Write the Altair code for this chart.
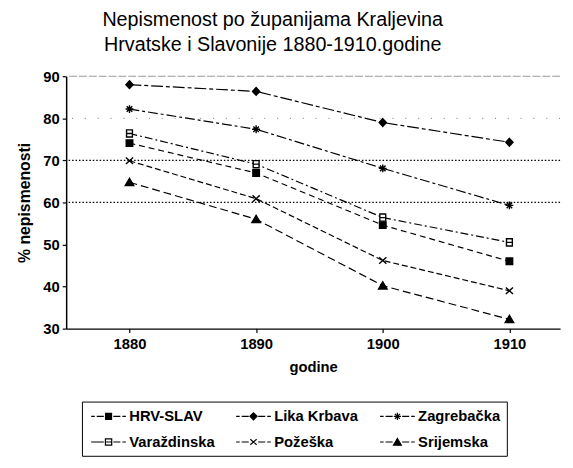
import altair as alt
import pandas as pd

years = [1880, 1890, 1900, 1910]
series = ["HRV-SLAV", "Lika Krbava", "Zagrebačka", "Varaždinska", "Požeška", "Srijemska"]
hrv_slav = [74.1, 67.0, 54.6, 46.0]
lika_krbava = [88.0, 86.4, 79.0, 74.3]
zagrebacka = [82.2, 77.4, 68.1, 59.3]
varazdinska = [76.4, 69.1, 56.4, 50.5]
pozeska = [69.9, 60.9, 46.2, 39.0]
srijemska = [64.8, 56.0, 40.2, 32.2]

y_ticks = [30, 40, 50, 60, 70, 80, 90]
grid_top = [90]
grid_sparse = [80]
grid_dotted = [70, 60]

all_vals = [hrv_slav, lika_krbava, zagrebacka, varazdinska, pozeska, srijemska]
rows = []
for name, vals in zip(series, all_vals):
    for yr, v in zip(years, vals):
        rows.append({"godina": yr, "zupanija": name, "pct": v})
df = pd.DataFrame(rows)

FONT = "Liberation Sans"
W, H = 501, 256

dashes = [[6, 4], [12, 3, 4, 3], [10, 3, 3, 3], [8, 3, 2, 3], [6, 3], [8, 4]]

plot_paths = [
    "M-1,-1H1V1H-1Z",
    "M0,-1.2L1.1,0L0,1.2L-1.1,0Z",
    "M-1.2,0H1.2M0,-1.2V1.2M-0.85,-0.85L0.85,0.85M-0.85,0.85L0.85,-0.85",
    "M-0.9,-1.1H0.9V1.1H-0.9ZM-0.9,0H0.9",
    "M-1.1,-1L1.1,1M-1.1,1L1.1,-1",
    "M0,-1.2L1.3,1H-1.3Z",
]
fills = ["black", "black", "black", "white", "black", "black"]
strokes = ["black"] * 6

L = "M-2.2,0H-1.75M-1.5,0H-0.6"
R = "M0.6,0H1.5M1.75,0H2.2"
legend_paths = [
    L + R + "M-0.38,-0.38H0.38V0.38H-0.38Z",
    L + R + "M0,-0.45L0.45,0L0,0.45L-0.45,0Z",
    L + R + "M-0.45,0H0.45M0,-0.45V0.45M-0.32,-0.32L0.32,0.32M-0.32,0.32L0.32,-0.32",
    "M-2.2,0H-0.6" + R + "M-0.4,-0.4H0.4V0.4H-0.4ZM-0.4,0H0.4",
    L + R + "M-0.4,-0.35L0.4,0.35M-0.4,0.35L0.4,-0.35",
    L + R + "M0,-0.45L0.5,0.4H-0.5Z",
]

x_axis = alt.Axis(
    values=years, format="d", title="godine", grid=False,
    labelFont=FONT, labelFontSize=15, labelFontWeight="bold", labelColor="black",
    titleFont=FONT, titleFontSize=15, titleFontWeight="bold", titleColor="black",
    titlePadding=8, labelPadding=4, tickSize=4, tickColor="black",
    domainColor="black", domainWidth=1.5, tickWidth=1.2,
)
y_axis = alt.Axis(
    values=y_ticks, title="% nepismenosti", grid=False,
    labelFont=FONT, labelFontSize=15, labelFontWeight="bold", labelColor="black",
    titleFont=FONT, titleFontSize=16, titleFontWeight="bold", titleColor="black",
    titlePadding=10, labelPadding=3, tickSize=4, tickColor="black",
    domainColor="black", domainWidth=1.5, tickWidth=1.2,
)
x_scale = alt.Scale(domain=[1875, 1914], nice=False, zero=False)
y_scale = alt.Scale(domain=[30, 90], nice=False, zero=False)

x_enc = alt.X("godina:Q", scale=x_scale, axis=x_axis)
y_enc = alt.Y("pct:Q", scale=y_scale, axis=y_axis)


def rule_layer(vals, **style):
    return alt.Chart(pd.DataFrame({"v": vals})).mark_rule(**style).encode(
        y=alt.Y("v:Q", scale=y_scale, axis=y_axis)
    )


top_rule = rule_layer(grid_top, color="#9a9a9a", strokeWidth=1.2, strokeDash=[8, 2])
sparse_rule = rule_layer(grid_sparse, color="#777777", strokeWidth=1, strokeDash=[1, 12])
dotted_rule = rule_layer(grid_dotted, color="black", strokeWidth=1.2, strokeDash=[1.5, 2])

lines = alt.Chart(df).mark_line(color="black", strokeWidth=1.2).encode(
    x=x_enc, y=y_enc,
    strokeDash=alt.StrokeDash("zupanija:N", scale=alt.Scale(domain=series, range=dashes), legend=None),
)

points = alt.Chart(df).mark_point(filled=True, stroke="black", strokeWidth=1.4, size=44, opacity=1).encode(
    x=x_enc, y=y_enc,
    shape=alt.Shape("zupanija:N", scale=alt.Scale(domain=series, range=plot_paths), legend=None),
    fill=alt.Fill("zupanija:N", scale=alt.Scale(domain=series, range=fills), legend=None),
)

leg = alt.Legend(
    title=None, orient="none", legendX=16, legendY=330, columns=3, direction="horizontal",
    strokeColor="black", padding=6, values=series,
    labelFont=FONT, labelFontSize=15, labelFontWeight="bold", labelColor="black",
    labelLimit=250, symbolSize=256, symbolStrokeColor="black", symbolStrokeWidth=1.2,
    symbolOpacity=1, symbolOffset=12, labelOffset=12, columnPadding=18, rowPadding=9,
)

legend_layer = alt.Chart(df).transform_filter("false").mark_point(
    filled=True, stroke="black", strokeWidth=1.2, size=256, opacity=1
).encode(
    x=x_enc, y=y_enc,
    shape=alt.Shape("zupanija:N", scale=alt.Scale(domain=series, range=legend_paths), legend=leg),
    fill=alt.Fill("zupanija:N", scale=alt.Scale(domain=series, range=fills), legend=leg),
    stroke=alt.Stroke("zupanija:N", scale=alt.Scale(domain=series, range=strokes), legend=leg),
)

chart = alt.layer(top_rule, sparse_rule, dotted_rule, lines, points, legend_layer).resolve_scale(
    shape="independent", fill="independent", stroke="independent"
).resolve_legend(shape="independent", fill="independent", stroke="independent").properties(
    width=W, height=H,
    title=alt.TitleParams(
        text=["Nepismenost po županijama Kraljevina", "Hrvatske i Slavonije 1880-1910.godine"],
        font=FONT, fontSize=20, fontWeight="normal", color="black",
        anchor="middle", dx=-41, offset=15, lineHeight=25,
    ),
    autosize=alt.AutoSizeParams(type="none"),
    padding={"left": 59, "top": 66, "right": 5, "bottom": 128},
    background="white",
).configure_view(stroke=None)

chart.save("out.html", embed_options={"renderer": "svg", "actions": False})
